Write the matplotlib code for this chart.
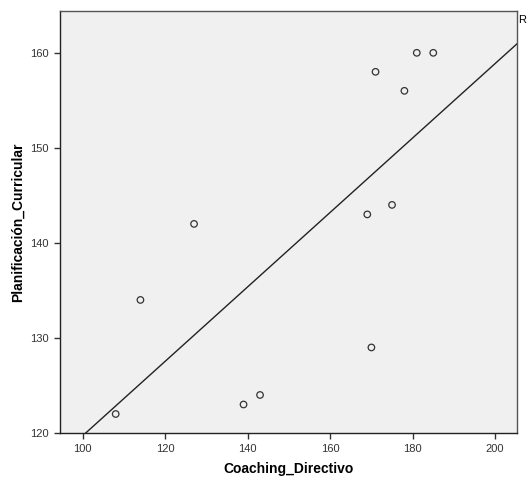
import numpy as np
import matplotlib
matplotlib.use("Agg")
import matplotlib.pyplot as plt

plt.rcParams['font.family'] = ['Liberation Sans', 'DejaVu Sans']

# datos
coaching = [108, 114, 127, 139, 143, 169, 170, 171, 175, 178, 181, 185]
planificacion = [122, 134, 142, 123, 124, 143, 129, 158, 144, 156, 160, 160]
x_ticks = [100, 120, 140, 160, 180, 200]
y_ticks = [120, 130, 140, 150, 160]

fig = plt.figure(figsize=(5.28, 4.79), dpi=100)
ax = fig.add_axes([60 / 528, 46 / 479, 457 / 528, 422 / 479])
ax.set_facecolor('#f0f0f0')

ax.scatter(coaching, planificacion, s=22, facecolors='none', edgecolors='#333333', linewidths=0.9, zorder=3)

# recta de regresion
m, b = np.polyfit(coaching, planificacion, 1)
xs = np.array([94.5, 205.3])
ax.plot(xs, m * xs + b, color='#222222', lw=1.0, zorder=2)

ax.set_xlim(94.5, 205.3)
ax.set_ylim(120, 164.4)
ax.set_xticks(x_ticks)
ax.set_yticks(y_ticks)
ax.tick_params(direction='out', length=4.5, width=1, labelsize=8, colors='#333333')
for s in ax.spines.values():
    s.set_color('#555555')
    s.set_linewidth(1)
ax.spines['left'].set_color('#222222')
ax.spines['bottom'].set_color('#222222')

ax.set_xlabel('Coaching_Directivo', fontsize=10, fontweight='bold', labelpad=6)
ax.set_ylabel('Planificación_Curricular', fontsize=10, fontweight='bold', labelpad=4)

# etiqueta del ajuste (cortada en el borde del original)
fig.text(518 / 528, 1 - 20 / 479, 'R', fontsize=8, va='center', ha='left')

fig.savefig('out.png', dpi=100)
